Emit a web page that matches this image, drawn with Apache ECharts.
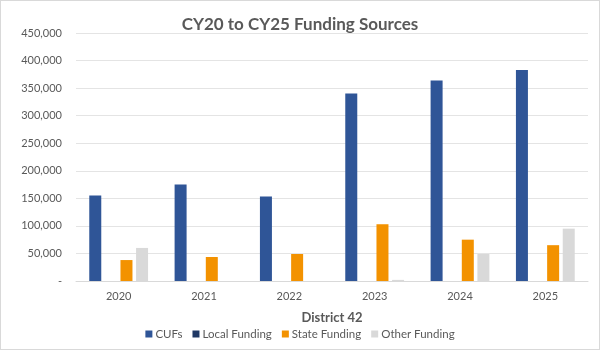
<!DOCTYPE html>
<html>
<head>
<meta charset="utf-8">
<script src="https://cdn.jsdelivr.net/npm/echarts@6/dist/echarts.min.js"></script>
<style>
html,body{margin:0;padding:0;background:#fff;}
#c{width:598px;height:348px;border:1px solid #D9D9D9;}
</style>
</head>
<body>
<div id="c"></div>
<script>
var categories = ['2020','2021','2022','2023','2024','2025'];
var cufs = [155000, 175000, 153500, 340000, 364000, 383000];
var localFunding = [null, null, null, null, null, null];
var stateFunding = [38000, 43500, 49000, 103000, 75000, 65000];
var otherFunding = [60000, null, null, 2000, 49000, 95000];
var seriesNames = ['CUFs','Local Funding','State Funding','Other Funding'];
var colors = ['#2F5597','#1F3864','#F39200','#D9D9D9'];

var font = 'Lato, "Open Sans", sans-serif';
var chart = echarts.init(document.getElementById('c'));
var datasets = [cufs, localFunding, stateFunding, otherFunding];
chart.setOption({
  animation:false,
  color: colors,
  title:{
    text:'CY20 to CY25 Funding Sources',
    left:'center', top:10,
    textStyle:{fontFamily:font, fontSize:17, fontWeight:'bold', color:'#595959'}
  },
  legend:{
    bottom:4, left:'center',
    itemWidth:7, itemHeight:7, itemGap:10,
    icon:'rect',
    textStyle:{fontFamily:font, fontSize:11.5, color:'#595959', padding:[0,0,0,-2]},
    data: seriesNames
  },
  grid:{left:75, right:11, top:32, bottom:68, containLabel:false},
  xAxis:{
    type:'category', data:categories,
    name:'District 42', nameLocation:'middle', nameGap:30,
    nameTextStyle:{fontFamily:font, fontSize:13, fontWeight:'bold', color:'#595959'},
    axisLine:{lineStyle:{color:'#D9D9D9'}},
    axisTick:{show:false},
    axisLabel:{fontFamily:font, fontSize:11, color:'#595959', margin:10}
  },
  yAxis:{
    type:'value', min:0, max:450000, interval:50000,
    axisLine:{show:false}, axisTick:{show:false},
    splitLine:{lineStyle:{color:'#E4E4E4', width:1}},
    axisLabel:{fontFamily:font, fontSize:11, color:'#595959', margin:14,
      formatter:function(v){ return v===0 ? '-' : v.toLocaleString('en-US'); }}
  },
  series: seriesNames.map(function(n,i){
    return {
      name:n, type:'bar', data:datasets[i],
      barWidth:12, barGap:'30%', barCategoryGap:'31%',
      itemStyle:{color:colors[i]}
    };
  })
});
</script>
</body>
</html>
